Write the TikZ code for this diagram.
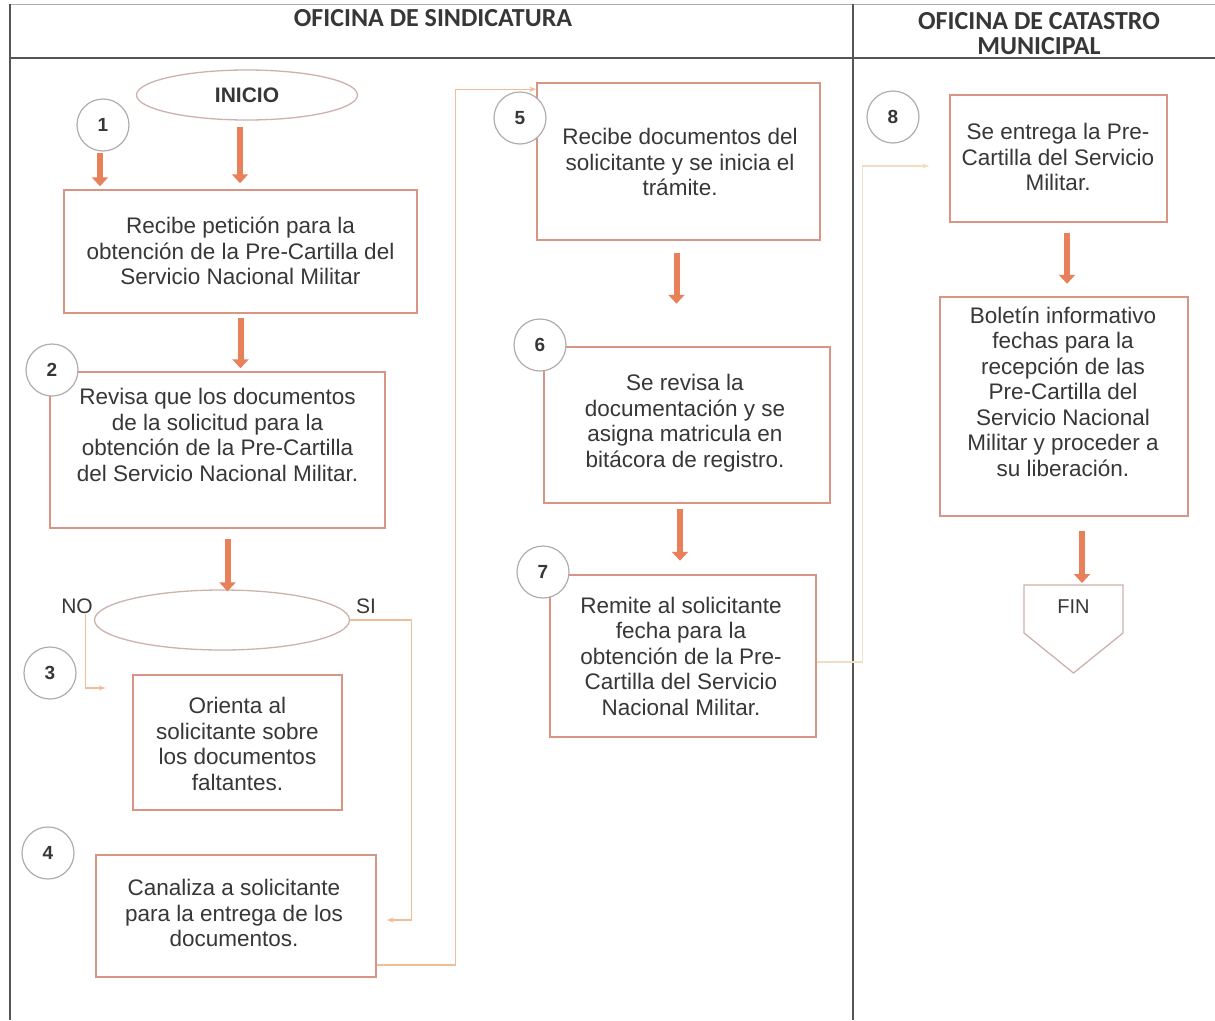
\documentclass[tikz,border=0pt]{standalone}
\usepackage{fontspec}
\setmainfont{Liberation Sans}
\newfontfamily\hdrfont{Carlito}
\usetikzlibrary{arrows.meta,calc,shapes.geometric}
\definecolor{boxc}{RGB}{218,148,132}
\definecolor{arrowc}{RGB}{232,128,90}
\definecolor{circc}{RGB}{178,172,170}
\definecolor{elc}{RGB}{205,178,172}
\definecolor{linec}{RGB}{238,190,155}
\definecolor{faintc}{RGB}{238,222,195}
\definecolor{textc}{RGB}{55,55,55}
\definecolor{framec}{RGB}{85,85,85}
\begin{document}
\begin{tikzpicture}[x=1pt,y=-1pt,
  box/.style={draw=boxc, line width=1.5pt, rectangle, inner sep=0pt},
  txt/.style={text=textc, font=\fontsize{22.5}{25.5}\selectfont, align=center, inner sep=0pt},
  num/.style={circle, draw=circc, line width=1.2pt, minimum size=52pt, inner sep=0pt, fill=white,
              font=\bfseries\fontsize{19}{22}\selectfont, text=textc},
  oval/.style={ellipse, draw=elc, line width=1.3pt, inner sep=0pt, text=textc},
  hdr/.style={font=\hdrfont\bfseries\fontsize{26}{25}\selectfont, text=textc, align=center, inner sep=0pt},
  lbl/.style={font=\fontsize{21}{24}\selectfont, text=textc, inner sep=0pt},
  bigarrow/.style={draw=arrowc, line width=6pt, -{Triangle[width=16pt,length=9pt]}},
  thinarrow/.style={draw=linec, line width=1.2pt, -{Stealth[length=7pt,width=5pt]}},
  faintarrow/.style={draw=faintc, line width=1.2pt, -{Stealth[length=7pt,width=5pt]}}
]
\useasboundingbox (0,0) rectangle (1215,1020);
\fill[white] (0,0) rectangle (1215,1020);

% frame
\draw[draw=circc, line width=1pt] (10,4) -- (1215,4);
\draw[draw=framec, line width=2.5pt] (10,58) -- (1215,58);
\draw[draw=framec, line width=2pt] (10,4) -- (10,1020);
\draw[draw=framec, line width=2pt] (853,4) -- (853,1020);

% headers
\node[hdr] (h1) at (433,18) {OFICINA DE SINDICATURA};
\node[hdr] (h2) at (1039,34) {OFICINA DE CATASTRO\\MUNICIPAL};

% start
\node[oval, minimum width=221pt, minimum height=50pt,
      font=\bfseries\fontsize{21}{24}\selectfont] (ini) at (247,95) {INICIO};

% boxes
\node[box, minimum width=353pt, minimum height=123pt] (b1) at (240.5,251.5) {};
\node[txt] (t1) at (240.5,251) {Recibe petición para la\\obtención de la Pre-Cartilla del\\Servicio Nacional Militar};

\node[box, minimum width=335pt, minimum height=156pt] (b2) at (217.5,450) {};
\node[txt] (t2) at (217.5,435) {Revisa que los documentos\\de la solicitud para la\\obtención de la Pre-Cartilla\\del Servicio Nacional Militar.};

\node[oval, minimum width=255pt, minimum height=60pt] (dec) at (222,620) {};
\node[lbl] (no) at (77,606) {NO};
\node[lbl] (si) at (366,606) {SI};

\node[box, minimum width=209pt, minimum height=135pt] (b3) at (237.5,742.5) {};
\node[txt] (t3) at (237.5,744) {Orienta al\\solicitante sobre\\los documentos\\faltantes.};

\node[box, minimum width=280pt, minimum height=122pt] (b4) at (236,916) {};
\node[txt] (t4) at (234,913) {Canaliza a solicitante\\para la entrega de los\\documentos.};

\node[box, minimum width=283pt, minimum height=157pt] (b5) at (678.5,161.5) {};
\node[txt] (t5) at (680,162) {Recibe documentos del\\solicitante y se inicia el\\trámite.};

\node[box, minimum width=286pt, minimum height=156pt] (b6) at (687,425) {};
\node[txt] (t6) at (685,423) {Se revisa la\\documentación y se\\asigna matricula en\\bitácora de registro.};

\node[box, minimum width=266pt, minimum height=162pt] (b7) at (683,656) {};
\node[txt] (t7) at (681,656) {Remite al solicitante\\fecha para la\\obtención de la Pre-\\Cartilla del Servicio\\Nacional Militar.};

\node[box, minimum width=217pt, minimum height=127pt] (b8) at (1058.5,158.5) {};
\node[txt] (t8) at (1058,157) {Se entrega la Pre-\\Cartilla del Servicio\\Militar.};

\node[box, minimum width=248pt, minimum height=219pt] (b9) at (1064,406.5) {};
\node[txt] (t9) at (1063,391.5) {Boletín informativo\\fechas para la\\recepción de las\\Pre-Cartilla del\\Servicio Nacional\\Militar y proceder a\\su liberación.};

% end (off-page connector)
\coordinate (fintop) at (1073.5,585);
\draw[draw=elc, line width=1.3pt, fill=white]
  (1024,585) -- (1123,585) -- (1123,633) -- (1073.5,673) -- (1024,633) -- cycle;
\node[lbl, font=\fontsize{20}{24}\selectfont] (fin) at (1073.5,607) {FIN};

% step numbers
\node[num] (c1) at (103,125) {1};
\node[num] (c2) at (52,370) {2};
\node[num] (c3) at (50,673) {3};
\node[num] (c4) at (48,853) {4};
\node[num] (c5) at (520,118) {5};
\node[num] (c6) at (540,345) {6};
\node[num] (c7) at (543,572) {7};
\node[num] (c8) at (893,117) {8};

% thick arrows
\draw[bigarrow] ($(c1.south)+(-3,1)$) -- ($(c1.south |- b1.north)+(-3,-3)$);
\draw[bigarrow] ($(ini.south)+(-7,6)$) -- ($(ini.south |- b1.north)+(-7,-6)$);
\draw[bigarrow] ($(b1.south)+(0,4)$) -- ($(b1.south |- b2.north)+(0,-3)$);
\draw[bigarrow] ($(b2.south)+(10,10)$) -- ($(b2.south |- dec.north)+(10,2)$);
\draw[bigarrow] ($(b5.south)+(-2,12)$) -- ($(b5.south)+(-2,63)$);
\draw[bigarrow] ($(b6.south)+(-7,5)$) -- ($(b6.south)+(-7,57)$);
\draw[bigarrow] ($(b8.south)+(8.5,10)$) -- ($(b8.south)+(8.5,61)$);
\draw[bigarrow] ($(b9.south)+(18,14)$) -- ($(fintop)+(8.5,-2)$);

% thin connectors
\draw[thinarrow] ($(dec.west)+(-8,-6)$) |- ($(c3.east)+(29,15)$);
\draw[thinarrow] (dec.east) -- ++(61,0) |- ($(b4.east)+(10,4)$);
\draw[thinarrow] ($(b4.east)+(0,49)$) -- ++(79,0) |- ($(b5.north west)+(0,7)$);
\draw[faintarrow] ($(b7.east)+(0,6)$) -- ++(46,0) |- ($(b8.west)+(-20,7.5)$);
\end{tikzpicture}
\end{document}
